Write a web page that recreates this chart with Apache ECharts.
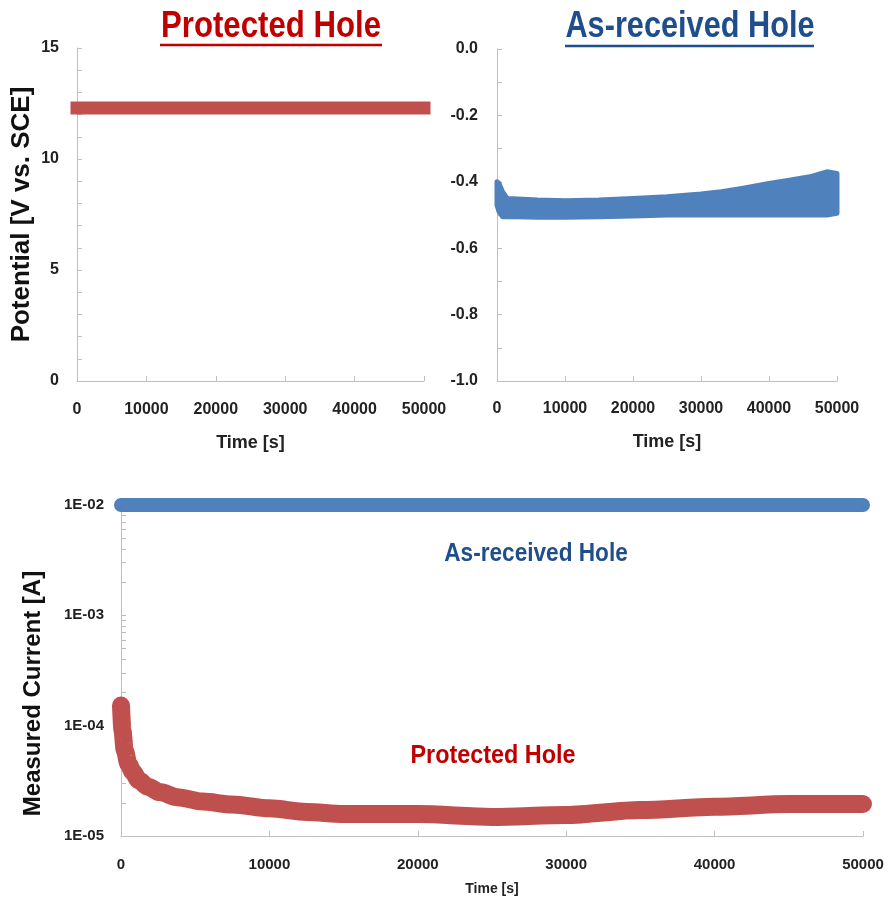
<!DOCTYPE html>
<html>
<head>
<meta charset="utf-8">
<script src="https://cdn.jsdelivr.net/npm/echarts@6/dist/echarts.min.js"></script>
<style>
html,body{margin:0;padding:0;background:#fff;}
#chart{width:891px;height:907px;}
</style>
</head>
<body>
<div id="chart"></div>
<script>
// ---- Data ----
// Top-left: Protected Hole potential [V vs. SCE]
const protTime = [0, 10000, 20000, 30000, 40000, 50000];
const protPotential = [12.3, 12.3, 12.3, 12.3, 12.3, 12.3];

// Top-right: As-received Hole potential band (upper / lower envelope)
const asrTime  = [0, 300, 800, 1500, 3000, 6000, 10000, 15000, 20000, 25000, 30000, 33000, 36000, 40000, 43000, 46000, 48500, 50000];
const asrUpper = [-0.40, -0.405, -0.43, -0.45, -0.452, -0.455, -0.457, -0.455, -0.45, -0.445, -0.437, -0.43, -0.42, -0.405, -0.395, -0.385, -0.37, -0.375];
const asrLower = [-0.47, -0.49, -0.505, -0.505, -0.505, -0.507, -0.507, -0.505, -0.503, -0.50, -0.50, -0.50, -0.50, -0.50, -0.50, -0.50, -0.50, -0.495];

// Bottom: measured current [A]
const curTime = [0, 100, 250, 500, 800, 1200, 1800, 2600, 3800, 5500, 7500, 10000, 12500, 15000, 20000, 25000, 30000, 35000, 40000, 45000, 50000];
const protCurrent = [1.52e-4, 9.0e-5, 6.0e-5, 4.5e-5, 3.8e-5, 3.2e-5, 2.8e-5, 2.5e-5, 2.25e-5, 2.05e-5, 1.93e-5, 1.78e-5, 1.65e-5, 1.58e-5, 1.58e-5, 1.49e-5, 1.55e-5, 1.72e-5, 1.84e-5, 1.95e-5, 1.95e-5];
const asrCurTime = [0, 10000, 20000, 30000, 40000, 50000];
const asrCurrent = [1e-2, 1e-2, 1e-2, 1e-2, 1e-2, 1e-2];

// Tick labels
const timeTicks = [0, 10000, 20000, 30000, 40000, 50000];
const potTicksLeft = [0, 5, 10, 15];
const potTicksRight = [-1.0, -0.8, -0.6, -0.4, -0.2, 0.0];
const currentTicks = [1e-5, 1e-4, 1e-3, 1e-2];

// ---- Styling ----
const SANS = "'Liberation Sans',Arial,sans-serif";
const RED = '#C0504D', BLUE = '#4F81BD';
const TITLE_RED = '#C00000', TITLE_BLUE = '#1F4E8C';
const AX = '#BFBFBF';

function zip(xs, ys){ return xs.map((x,i)=>[x, ys[i]]); }
function logMinorTicks(ticks){
  const out = [];
  for (let i = 0; i < ticks.length - 1; i++) {
    for (let k = 1; k < 10; k++) out.push(ticks[i] * k);
  }
  out.push(ticks[ticks.length-1]);
  return out;
}
function expLabel(v){
  const e = Math.round(Math.log10(v));
  return '1E' + (e < 0 ? '-' : '+') + String(Math.abs(e)).padStart(2,'0');
}
const plain = v => String(v);

const axisLine = { show: true, onZero: false, lineStyle: { color: AX, width: 1 } };
const tick = { show: true, inside: true, length: 5, lineStyle: { color: AX } };
const labelTop = { color: '#222', fontFamily: SANS, fontWeight: 'bold', fontSize: 16 };
const labelBotY = { color: '#222', fontFamily: SANS, fontWeight: 'bold', fontSize: 15 };
const labelBotX = { color: '#222', fontFamily: SANS, fontWeight: 'bold', fontSize: 15 };
const timeName = { color: '#222', fontFamily: SANS, fontWeight: 'bold', fontSize: 18 };

const chart = echarts.init(document.getElementById('chart'), null, { renderer: 'canvas' });

const option = {
  animation: false,
  backgroundColor: '#fff',
  grid: [
    { left: 77, top: 48, width: 347, height: 333 },
    { left: 497, top: 49, width: 340, height: 332 },
    { left: 121, top: 505, width: 742, height: 331 }
  ],
  xAxis: [
    { gridIndex: 0, type: 'value', min: timeTicks[0], max: timeTicks[timeTicks.length-1], interval: 10000,
      axisLine, axisTick: tick, splitLine: { show: false },
      axisLabel: Object.assign({ margin: 21, formatter: plain }, labelTop),
      name: 'Time [s]', nameLocation: 'middle', nameGap: 53, nameTextStyle: timeName },
    { gridIndex: 1, type: 'value', min: timeTicks[0], max: timeTicks[timeTicks.length-1], interval: 10000,
      axisLine, axisTick: tick, splitLine: { show: false },
      axisLabel: Object.assign({ margin: 20, formatter: plain }, labelTop),
      name: 'Time [s]', nameLocation: 'middle', nameGap: 52, nameTextStyle: timeName },
    { gridIndex: 2, type: 'value', min: timeTicks[0], max: timeTicks[timeTicks.length-1], interval: 10000,
      axisLine, axisTick: tick, splitLine: { show: false },
      axisLabel: Object.assign({ margin: 21, formatter: plain }, labelBotX),
      name: 'Time [s]', nameLocation: 'middle', nameGap: 46,
      nameTextStyle: { color: '#222', fontFamily: SANS, fontWeight: 'bold', fontSize: 14 } }
  ],
  yAxis: [
    { gridIndex: 0, type: 'value', min: potTicksLeft[0], max: potTicksLeft[potTicksLeft.length-1], interval: 5,
      axisLine, axisTick: tick, splitLine: { show: false },
      minorTick: { show: true, splitNumber: 5, length: 5, lineStyle: { color: AX } },
      minorSplitLine: { show: false },
      axisLabel: Object.assign({ margin: 18 }, labelTop),
      name: 'Potential [V vs. SCE]', nameLocation: 'middle', nameGap: 42, nameRotate: 90,
      nameTextStyle: { color: '#111', fontFamily: SANS, fontWeight: 'bold', fontSize: 26 } },
    { gridIndex: 1, type: 'value', min: potTicksRight[0], max: potTicksRight[potTicksRight.length-1], interval: 0.2,
      axisLine, axisTick: tick, splitLine: { show: false },
      minorTick: { show: true, splitNumber: 2, length: 5, lineStyle: { color: AX } },
      minorSplitLine: { show: false },
      axisLabel: Object.assign({ margin: 19, formatter: v => v.toFixed(1) }, labelTop) },
    { gridIndex: 2, type: 'log', logBase: 10, min: currentTicks[0], max: currentTicks[currentTicks.length-1],
      axisLine, splitLine: { show: false },
      axisTick: Object.assign({ customValues: logMinorTicks(currentTicks) }, tick),
      axisLabel: Object.assign({ margin: 17, formatter: expLabel, customValues: currentTicks }, labelBotY),
      name: 'Measured Current [A]', nameLocation: 'middle', nameGap: 76, nameRotate: 90,
      nameTextStyle: { color: '#111', fontFamily: SANS, fontWeight: 'bold', fontSize: 24, padding: [0, 46, 0, 0] } }
  ],
  series: [
    { type: 'line', xAxisIndex: 0, yAxisIndex: 0, data: zip(protTime, protPotential),
      symbol: 'none', clip: false, lineStyle: { color: RED, width: 13, cap: 'square' } },
    { type: 'custom', xAxisIndex: 1, yAxisIndex: 1, clip: false,
      data: asrTime.map((t, i) => [t, asrUpper[i], asrLower[i]]),
      encode: { x: 0, y: [1, 2] },
      renderItem: function (params, api) {
        if (params.dataIndex !== 0) return null;
        const pts = [];
        for (let i = 0; i < asrTime.length; i++) pts.push(api.coord([asrTime[i], asrUpper[i]]));
        for (let i = asrTime.length - 1; i >= 0; i--) pts.push(api.coord([asrTime[i], asrLower[i]]));
        return { type: 'polygon', shape: { points: pts },
                 style: { fill: BLUE, stroke: BLUE, lineWidth: 5, lineJoin: 'round' } };
      } },
    { type: 'line', xAxisIndex: 2, yAxisIndex: 2, data: zip(asrCurTime, asrCurrent),
      symbol: 'none', clip: false, lineStyle: { color: BLUE, width: 14, cap: 'round' } },
    { type: 'line', xAxisIndex: 2, yAxisIndex: 2, data: zip(curTime, protCurrent),
      symbol: 'none', clip: false, smooth: 0.3, smoothMonotone: 'x',
      lineStyle: { color: RED, width: 18, cap: 'round', join: 'round' } }
  ],
  graphic: [
    { type: 'text', x: 271, y: 27, scaleX: 0.866, style: { text: 'Protected Hole', fill: TITLE_RED, font: "bold 36px " + SANS, textAlign: 'center', textVerticalAlign: 'middle' } },
    { type: 'line', shape: { x1: 160, y1: 45, x2: 382, y2: 45 }, style: { stroke: TITLE_RED, lineWidth: 2.5 } },
    { type: 'text', x: 690, y: 27, scaleX: 0.853, style: { text: 'As-received Hole', fill: TITLE_BLUE, font: "bold 36px " + SANS, textAlign: 'center', textVerticalAlign: 'middle' } },
    { type: 'line', shape: { x1: 565, y1: 46, x2: 814, y2: 46 }, style: { stroke: TITLE_BLUE, lineWidth: 2.5 } },
    { type: 'text', x: 536, y: 554, scaleX: 0.87, style: { text: 'As-received Hole', fill: TITLE_BLUE, font: "bold 26px " + SANS, textAlign: 'center', textVerticalAlign: 'middle' } },
    { type: 'text', x: 493, y: 756, scaleX: 0.9, style: { text: 'Protected Hole', fill: TITLE_RED, font: "bold 26px " + SANS, textAlign: 'center', textVerticalAlign: 'middle' } }
  ]
};
chart.setOption(option);
</script>
</body>
</html>
